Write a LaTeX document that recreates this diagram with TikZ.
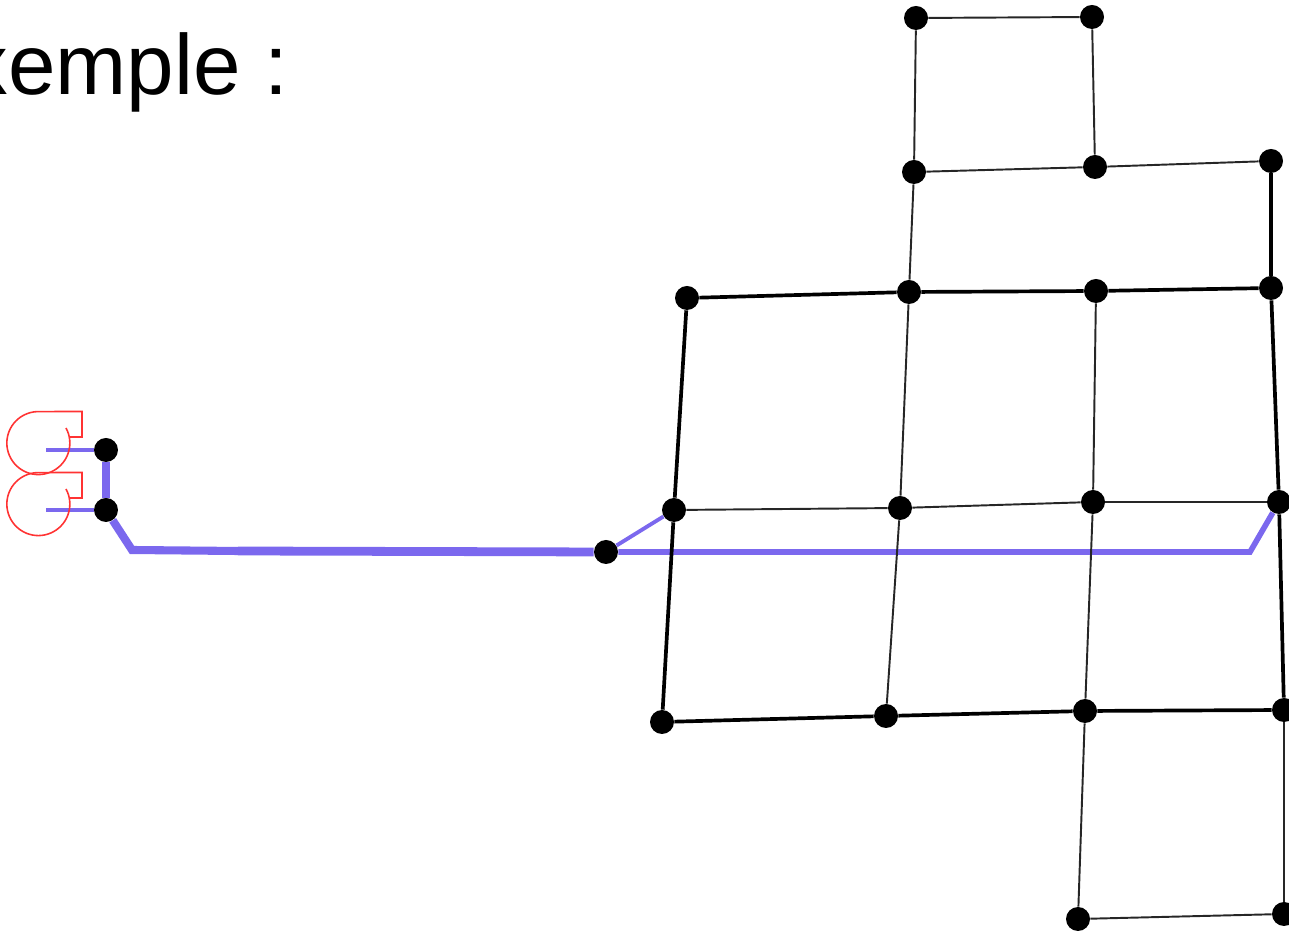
\documentclass[tikz,border=0pt]{standalone}
\usepackage{fontspec}
\setmainfont{Liberation Sans}
\definecolor{bleu}{HTML}{7B68EE}
\definecolor{rouge}{HTML}{FF3333}
\tikzset{
pt/.style={circle,fill=black,inner sep=0pt,minimum size=0.48cm},
fin/.style={draw=black!85,line width=1.1pt},
gros/.style={draw=black,line width=2.1pt},
antenne/.style={draw=rouge,line width=0.9pt},
bleufin/.style={draw=bleu,line width=2.2pt},
bleumoyen/.style={draw=bleu,line width=3.2pt},
bleugros/.style={draw=bleu,line width=4.6pt},
bleutresgros/.style={draw=bleu,line width=5pt}
}

\begin{document}
\begin{tikzpicture}[x=0.02cm,y=0.02cm]

\useasboundingbox (0,0) rectangle (1289,933);

\node[anchor=base west,inner sep=0pt,font=\fontsize{48.6pt}{49pt}\selectfont] (titre) at (-35,838) {xemple :};

\node[pt] (a1) at (916,915) {};
\node[pt] (a2) at (1092,916) {};

\node[pt] (b1) at (914,761) {};
\node[pt] (b2) at (1095,766) {};
\node[pt] (b3) at (1271,772) {};

\node[pt] (c0) at (687,635) {};
\node[pt] (c1) at (909,641) {};
\node[pt] (c2) at (1096,642) {};
\node[pt] (c3) at (1271,645) {};

\node[pt] (d0) at (674,423) {};
\node[pt] (d1) at (900,425) {};
\node[pt] (d2) at (1093,431) {};
\node[pt] (d3) at (1279,431) {};

\node[pt] (s) at (606,381) {};

\node[pt] (e0) at (662,211) {};
\node[pt] (e1) at (886,217) {};
\node[pt] (e2) at (1085,222) {};
\node[pt] (e3) at (1284,223) {};

\node[pt] (f2) at (1078,14) {};
\node[pt] (f3) at (1284,19) {};

\node[pt] (p1) at (106,483) {};
\node[pt] (p2) at (106,423) {};

\coordinate (q1) at (46,483);
\coordinate (q2) at (46,423);
\coordinate (r1) at (132,383);
\coordinate (r2) at (238,382);
\coordinate (r3) at (1250,381);

% feeder
\draw[bleufin] (q1) -- (p1);
\draw[bleufin] (q2) -- (p2);
\draw[bleugros] (p1) -- (p2);
\draw[bleugros] (p2) -- (r1) -- (r2);
\draw[bleutresgros] (r2) -- (s);
\draw[bleufin] (s) -- (d0);
\draw[bleumoyen] (s) -- (r3) -- (d3);

% grid
\draw[fin] (a1) -- (a2);
\draw[fin] (a1) -- (b1);
\draw[fin] (a2) -- (b2);
\draw[fin] (b1) -- (b2);
\draw[fin] (b2) -- (b3);
\draw[fin] (b1) -- (c1);
\draw[gros] (b3) -- (c3);

\draw[gros] (c0) -- (c1);
\draw[gros] (c1) -- (c2);
\draw[gros] (c2) -- (c3);

\draw[gros] (c0) -- (d0);
\draw[fin] (c1) -- (d1);
\draw[fin] (c2) -- (d2);
\draw[gros] (c3) -- (d3);

\draw[fin] (d0) -- (d1);
\draw[fin] (d1) -- (d2);
\draw[fin] (d2) -- (d3);

\draw[gros] (d0) -- (e0);
\draw[fin] (d1) -- (e1);
\draw[fin] (d2) -- (e2);
\draw[gros] (d3) -- (e3);

\draw[gros] (e0) -- (e1);
\draw[gros] (e1) -- (e2);
\draw[gros] (e2) -- (e3);

\draw[fin] (e2) -- (f2);
\draw[fin] (e3) -- (f3);
\draw[fin] (f2) -- (f3);

% antennes
\draw[antenne] (66,505) arc[start angle=28.6,end angle=-270,radius=31.5] -- (82,521.5) -- (82,496) -- (70,496);

\begin{scope}[shift={(0,-61)}]
\draw[antenne] (66,505) arc[start angle=28.6,end angle=-270,radius=31.5] -- (82,521.5) -- (82,496) -- (70,496);
\end{scope}

\end{tikzpicture}
\end{document}
